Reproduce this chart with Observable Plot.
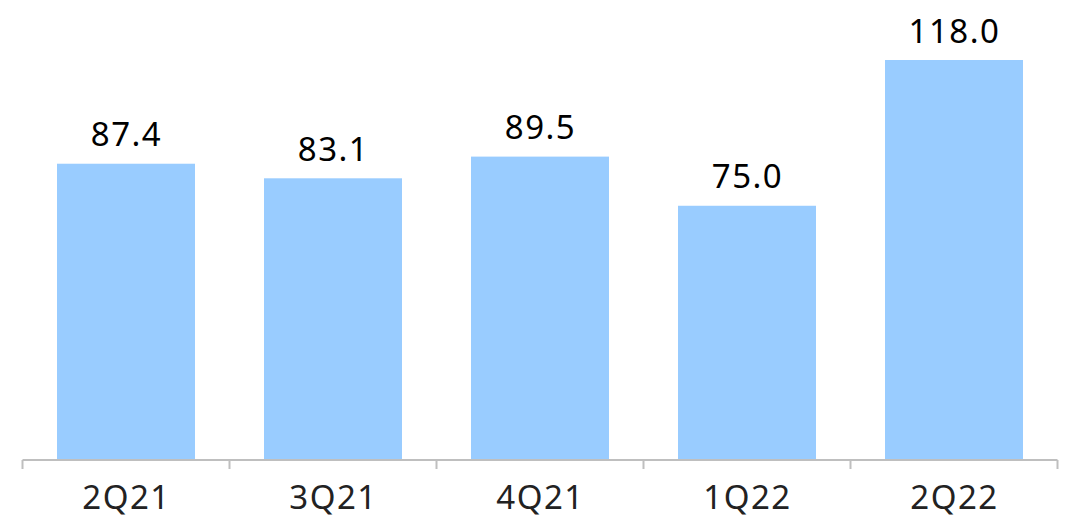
<!DOCTYPE html>
<html>
<head>
<meta charset="utf-8">
<script src="https://cdn.jsdelivr.net/npm/d3@7"></script>
<script src="https://cdn.jsdelivr.net/npm/@observablehq/plot@0.6"></script>
<style>
  html, body { margin: 0; padding: 0; background: #fff; }
  #chart { width: 1072px; height: 521px; }
  #chart text { letter-spacing: 1.5px; }
</style>
</head>
<body>
<div id="chart"></div>
<script>
const quarters = ["2Q21", "3Q21", "4Q21", "1Q22", "2Q22"];
const values = [87.4, 83.1, 89.5, 75.0, 118.0];
const labels = ["87.4", "83.1", "89.5", "75.0", "118.0"];

const data = quarters.map((q, i) => ({q, v: values[i], label: labels[i]}));

const boundaryTicks = (index, scales, vals, dims) => {
  const g = d3.create("svg:g");
  const x = scales.x, y = scales.y;
  const step = x(quarters[1]) - x(quarters[0]);
  const bw = x.bandwidth ? x.bandwidth() : step * (2/3);
  const pad = (step - bw) / 2;
  const y0 = y(0);
  const edges = quarters.map(q => x(q) - pad);
  edges.push(x(quarters[quarters.length - 1]) + bw + pad);
  g.append("line")
    .attr("x1", edges[0]).attr("x2", edges[edges.length - 1])
    .attr("y1", y0).attr("y2", y0)
    .attr("stroke", "#bfbfbf").attr("stroke-width", 2);
  for (const e of edges) {
    g.append("line")
      .attr("x1", e).attr("x2", e)
      .attr("y1", y0).attr("y2", y0 + 9)
      .attr("stroke", "#bfbfbf").attr("stroke-width", 2);
  }
  return g.node();
};

const chart = Plot.plot({
  width: 1072,
  height: 521,
  marginLeft: 22,
  marginRight: 14,
  marginTop: 60,
  marginBottom: 61,
  style: { fontFamily: "'Noto Sans', 'Open Sans', sans-serif", background: "#fff" },
  x: { domain: quarters, paddingInner: 0.333, paddingOuter: 0.1665, label: null },
  y: { domain: [0, 118], axis: null },
  marks: [
    Plot.barY(data, { x: "q", y: "v", fill: "#99ccff", insetBottom: 1 }),
    boundaryTicks,
    Plot.axisX({ tickSize: 0, tickPadding: 25, fontSize: 33, fill: "#222", label: null }),
    Plot.text(data, { x: "q", y: "v", text: "label", lineAnchor: "bottom", dy: -18, fontSize: 33, fill: "#000" })
  ]
});
document.getElementById("chart").appendChild(chart);
</script>
</body>
</html>
